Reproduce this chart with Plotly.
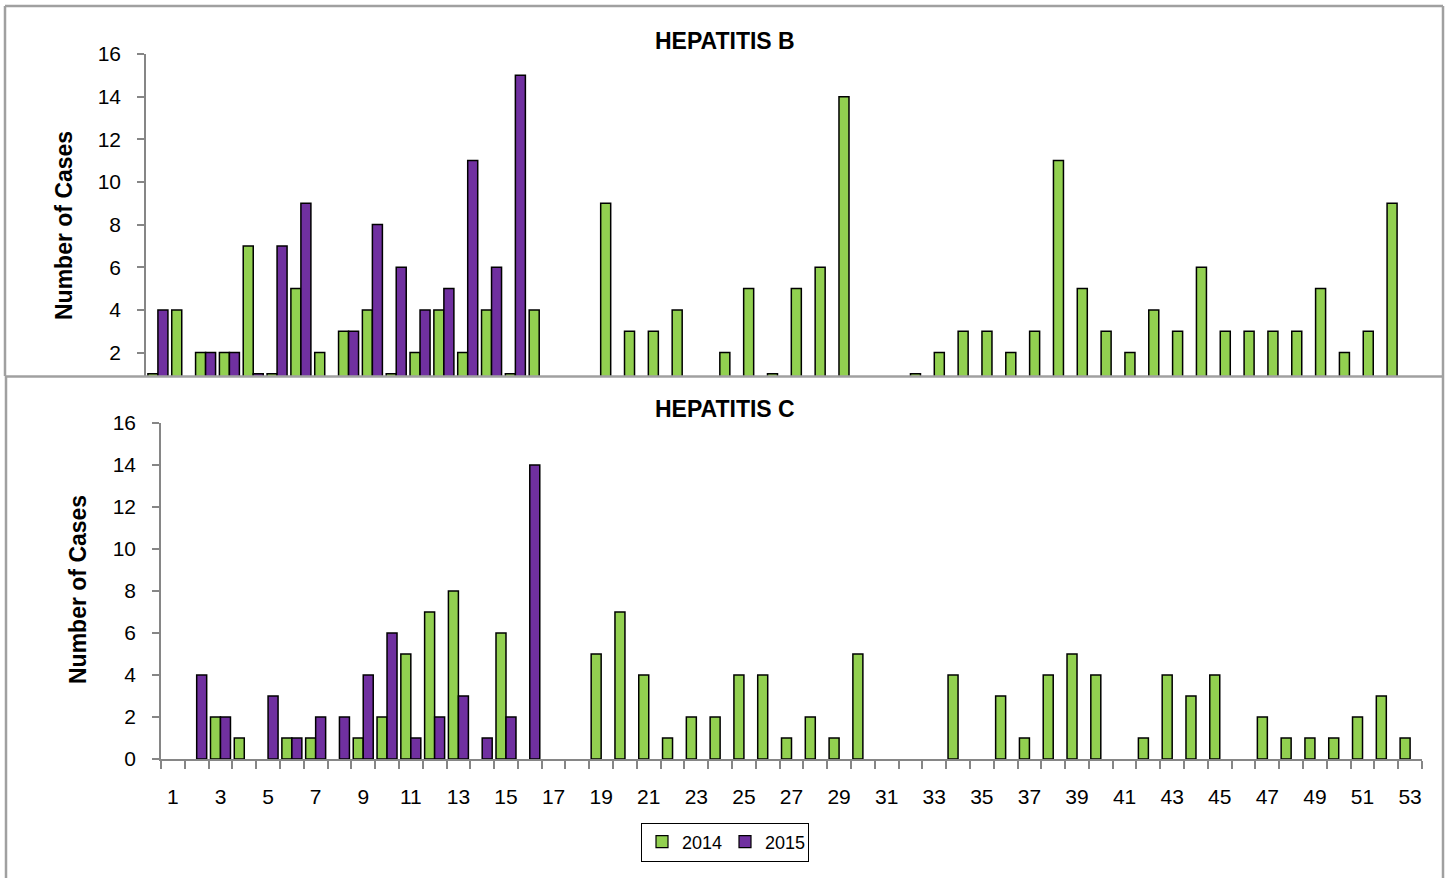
import plotly.graph_objects as go

# ---------------- data ----------------
weeks = list(range(1, 54))

hepb_2014 = [1, 4, 2, 2, 7, 1, 5, 2, 3, 4, 1, 2, 4, 2, 4, 1, 4, 0, 0, 9,
             3, 3, 4, 0, 2, 5, 1, 5, 6, 14, 0, 0, 1, 2, 3, 3, 2, 3, 11, 5,
             3, 2, 4, 3, 6, 3, 3, 3, 3, 5, 2, 3, 9]
hepb_2015 = [4, 0, 2, 2, 1, 7, 9, 0, 3, 8, 6, 4, 5, 11, 6, 15] + [None] * 37

hepc_2014 = [0, 0, 2, 1, 0, 1, 1, 0, 1, 2, 5, 7, 8, 0, 6, 0, 0, 0, 5, 7,
             4, 1, 2, 2, 4, 4, 1, 2, 1, 5, 0, 0, 0, 4, 0, 3, 1, 4, 5, 4,
             0, 1, 4, 3, 4, 0, 2, 1, 1, 1, 2, 3, 1]
hepc_2015 = [0, 4, 2, 0, 3, 1, 2, 2, 4, 6, 1, 2, 3, 1, 2, 14] + [None] * 37

series_names = ["2014", "2015"]
y_ticks_b = [2, 4, 6, 8, 10, 12, 14, 16]
y_ticks_c = [0, 2, 4, 6, 8, 10, 12, 14, 16]
x_tick_labels = list(range(1, 54, 2))
titles = ["HEPATITIS B", "HEPATITIS C"]
y_title = "Number of Cases"

# ---------------- style ----------------
W, H = 1450, 878
GREEN = "#92D050"
PURPLE = "#7030A0"
AXIS = "#868686"
FRAME = "#A0A0A0"
FONT = "Liberation Sans, Arial, sans-serif"


def fx(x):
    return x / W


def fy(y):
    return 1 - y / H


def outline(values):
    # zero-height bars get no outline (as in the original chart)
    return dict(color="black", width=[0 if (v is None or v == 0) else 1.5 for v in values])


fig = go.Figure()

# top chart (Hepatitis B)
fig.add_trace(go.Bar(x=weeks, y=hepb_2014, name=series_names[0],
                     marker=dict(color=GREEN, line=outline(hepb_2014)),
                     xaxis="x", yaxis="y", showlegend=False))
fig.add_trace(go.Bar(x=weeks, y=hepb_2015, name=series_names[1],
                     marker=dict(color=PURPLE, line=outline(hepb_2015)),
                     xaxis="x", yaxis="y", showlegend=False))
# bottom chart (Hepatitis C)
fig.add_trace(go.Bar(x=weeks, y=hepc_2014, name=series_names[0],
                     marker=dict(color=GREEN, line=outline(hepc_2014)),
                     xaxis="x2", yaxis="y2", showlegend=False))
fig.add_trace(go.Bar(x=weeks, y=hepc_2015, name=series_names[1],
                     marker=dict(color=PURPLE, line=outline(hepc_2015)),
                     xaxis="x2", yaxis="y2", showlegend=False))
# legend entries (on a hidden subplot so they do not affect bar grouping)
for nm, col in zip(series_names, [GREEN, PURPLE]):
    fig.add_trace(go.Bar(x=[None], y=[None], name=nm,
                         marker=dict(color=col, line=dict(color="black", width=1.2)),
                         xaxis="x3", yaxis="y3", showlegend=True))

tickfont = dict(family=FONT, size=21, color="black")

fig.update_layout(
    width=W, height=H,
    margin=dict(l=0, r=0, t=0, b=0, autoexpand=False),
    paper_bgcolor="white", plot_bgcolor="rgba(0,0,0,0)",
    barmode="group", bargap=0.16, bargroupgap=0,
    xaxis=dict(domain=[fx(146), fx(1409)], range=[0.5, 53.5], anchor="y", automargin=False,
               showline=False, showticklabels=False, ticks="", showgrid=False, zeroline=False),
    yaxis=dict(domain=[fy(376), fy(54)], range=[0.9, 16], anchor="x", automargin=False,
               showline=True, linecolor=AXIS, linewidth=1.5, showgrid=False, zeroline=False,
               ticks="outside", ticklen=7, tickcolor=AXIS, tickwidth=1.5,
               tickvals=y_ticks_b, tickfont=tickfont, ticklabelstandoff=12),
    xaxis2=dict(domain=[fx(161), fx(1422)], range=[0.5, 53.5], anchor="y2", automargin=False,
                showline=True, linecolor=AXIS, linewidth=1.5, showgrid=False, zeroline=False,
                tickvals=x_tick_labels, ticktext=[str(v) for v in x_tick_labels], ticks="",
                tickfont=tickfont, ticklabelstandoff=18,
                minor=dict(tickvals=[w + 0.5 for w in range(0, 54)], ticks="outside",
                           ticklen=8, tickcolor=AXIS, tickwidth=1.5, showgrid=False)),
    yaxis2=dict(domain=[fy(759), fy(423)], range=[0, 16], anchor="x2", automargin=False,
                showline=True, linecolor=AXIS, linewidth=1.5, showgrid=False, zeroline=False,
                ticks="outside", ticklen=7, tickcolor=AXIS, tickwidth=1.5,
                tickvals=y_ticks_c, tickfont=tickfont, ticklabelstandoff=12),
    xaxis3=dict(domain=[0, 0.01], anchor="y3", visible=False, automargin=False),
    yaxis3=dict(domain=[0, 0.01], anchor="x3", visible=False, automargin=False),
    legend=dict(orientation="h", x=fx(725), xanchor="center", y=fy(842), yanchor="middle",
                bordercolor="black", borderwidth=1, bgcolor="white",
                font=dict(family=FONT, size=18, color="black"),
                itemwidth=30, tracegroupgap=0, entrywidth=38, entrywidthmode="pixels"),
    font=dict(family=FONT),
)

# titles and axis titles
for txt, x, y, ang in [(titles[0], 725, 41, 0), (titles[1], 725, 409, 0),
                       (y_title, 64, 225, -90), (y_title, 78, 590, -90)]:
    fig.add_annotation(text="<b>%s</b>" % txt, x=fx(x), y=fy(y), xref="paper", yref="paper",
                       showarrow=False, textangle=ang, font=dict(family=FONT, size=23, color="black"),
                       xanchor="center", yanchor="middle")

# chart frames
frame = dict(color=FRAME, width=2.5)
for x0, y0, x1, y1 in [(5, 6, 5, 376), (5, 6, 1443, 6), (1443, 6, 1443, 376),
                       (5, 376.5, 1443, 376.5), (6, 376, 6, 900), (1443, 376, 1443, 900)]:
    fig.add_shape(type="line", xref="paper", yref="paper",
                  x0=fx(x0), x1=fx(x1), y0=fy(y0), y1=fy(y1), line=frame)

fig.write_html("out.html", config={"displayModeBar": False},
               post_script="document.body.style.margin='0';document.body.style.overflow='hidden';")
